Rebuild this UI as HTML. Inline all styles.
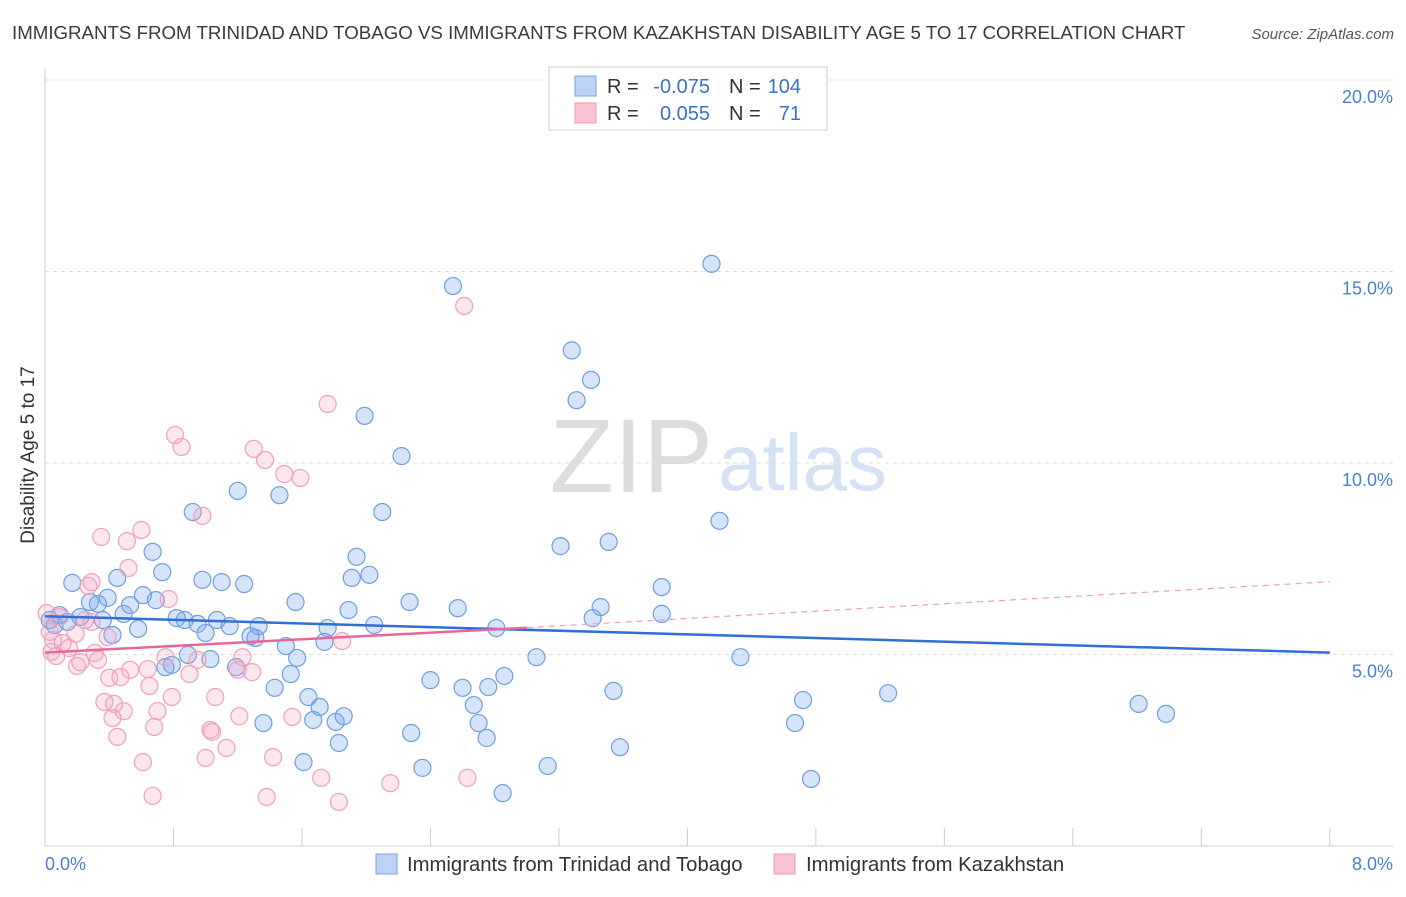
<!DOCTYPE html>
<html><head><meta charset="utf-8"><style>
body{margin:0;background:#fff;font-family:"Liberation Sans",sans-serif}
svg text{font-family:"Liberation Sans",sans-serif}
</style></head><body>
<svg id="chart" width="1406" height="892" viewBox="0 0 1406 892" xmlns="http://www.w3.org/2000/svg">
<text x="12" y="39" font-size="18.7" fill="#3a3a3a">IMMIGRANTS FROM TRINIDAD AND TOBAGO VS IMMIGRANTS FROM KAZAKHSTAN DISABILITY AGE 5 TO 17 CORRELATION CHART</text>
<text x="1394" y="39" font-size="15" fill="#555" font-style="italic" text-anchor="end">Source: ZipAtlas.com</text>
<text x="713" y="492" font-size="105" text-anchor="end" fill="#ddd" font-family="Liberation Serif">ZIP</text>
<text x="718" y="490" font-size="80" fill="#d4e2f4">atlas</text>
<g id="grid"></g>
<g id="axes"></g>
<text transform="translate(34,455) rotate(-90)" font-size="19" fill="#333" text-anchor="middle">Disability Age 5 to 17</text>
<g id="points"></g>
<g id="trends"></g>
<g>
<rect x="549" y="67" width="278" height="63" fill="#fff" stroke="#ccc"/>
<rect x="575" y="76" width="21" height="20" fill="#bcd3f5" stroke="#7ea6e0"/>
<rect x="575" y="103" width="21" height="20" fill="#f9c3d3" stroke="#f09ab5"/>
<text x="607" y="93" font-size="20" fill="#333">R =</text>
<text x="710" y="93" font-size="20" fill="#3a72c8" text-anchor="end">-0.075</text>
<text x="729" y="93" font-size="20" fill="#333">N =</text>
<text x="801" y="93" font-size="20" fill="#3a72c8" text-anchor="end">104</text>
<text x="607" y="120" font-size="20" fill="#333">R =</text>
<text x="710" y="120" font-size="20" fill="#3a72c8" text-anchor="end">0.055</text>
<text x="729" y="120" font-size="20" fill="#333">N =</text>
<text x="801" y="120" font-size="20" fill="#3a72c8" text-anchor="end">71</text>
</g>
<g>
<rect x="376" y="854" width="21" height="20" fill="#bcd3f5" stroke="#7ea6e0"/>
<text x="407" y="871" font-size="20.3" fill="#333">Immigrants from Trinidad and Tobago</text>
<rect x="774" y="854" width="21" height="20" fill="#f9c3d3" stroke="#f09ab5"/>
<text x="806" y="871" font-size="20.3" fill="#333">Immigrants from Kazakhstan</text>
</g>
</svg>
<script>
const yTicks=[5,10,15,20];
const yTickLabels=["5.0%","10.0%","15.0%","20.0%"];
const xTickVals=[0,0.8,1.6,2.4,3.2,4,4.8,5.6,6.4,7.2,8];
const xLabels=["0.0%","8.0%"];
const blueX=[2.54,4.15,3.28,3.40,3.31,1.99,2.22,1.20,1.46,0.92,2.10,4.20,3.21,3.51,0.67,1.94,0.73,0.45,0.17,0.98,1.10,1.24,1.91,2.02,3.84,0.39,0.28,0.53,0.61,0.69,0.33,1.56,2.27,2.57,3.46,1.89,3.84,3.41,0.09,0.22,0.36,0.03,0.06,0.14,0.49,0.82,0.87,0.95,1.07,1.15,1.33,0.58,1.00,0.42,1.28,1.31,1.76,2.05,2.81,1.74,1.50,0.89,1.57,1.03,0.79,0.75,1.19,3.06,4.33,1.53,2.40,2.86,1.43,2.60,2.76,3.54,5.25,4.72,1.64,1.71,2.67,6.81,6.98,1.36,1.67,1.81,1.86,2.70,4.67,2.28,2.75,1.83,3.58,1.61,2.35,3.13,4.77,2.85];
const blueY=[14.62,15.20,12.94,12.17,11.64,11.23,10.18,9.27,9.16,8.72,8.72,8.49,7.83,7.94,7.68,7.55,7.15,7.00,6.87,6.95,6.89,6.84,7.00,7.08,6.76,6.48,6.37,6.29,6.55,6.42,6.32,6.37,6.37,6.21,6.24,6.16,6.06,5.95,6.03,5.98,5.90,5.90,5.77,5.85,6.06,5.95,5.90,5.80,5.90,5.74,5.74,5.67,5.56,5.51,5.48,5.43,5.69,5.77,5.69,5.33,5.22,4.99,4.91,4.88,4.73,4.67,4.67,4.93,4.93,4.49,4.33,4.44,4.13,4.13,4.15,4.05,3.99,3.81,3.89,3.63,3.68,3.71,3.45,3.21,3.29,3.24,3.39,3.21,3.21,2.95,2.82,2.69,2.58,2.19,2.04,2.09,1.75,1.38];
const pinkX=[2.61,1.76,0.81,0.85,1.30,1.37,1.49,1.59,0.98,0.60,0.35,0.51,0.52,0.29,0.27,0.77,0.01,0.09,0.25,0.29,0.03,0.19,0.39,0.05,0.11,0.15,0.04,0.31,0.07,1.23,1.85,0.75,0.33,0.22,0.20,0.95,0.64,0.53,1.20,0.90,1.29,0.40,0.47,0.65,0.79,1.06,0.37,0.43,0.70,0.49,0.42,1.21,1.54,0.68,1.03,1.04,0.45,1.13,1.42,1.00,0.61,1.72,2.63,2.15,0.67,1.38,1.83];
const pinkY=[14.10,11.54,10.73,10.42,10.37,10.08,9.71,9.61,8.62,8.25,8.07,7.96,7.26,6.89,6.79,6.45,6.08,5.98,5.90,5.85,5.59,5.54,5.46,5.38,5.30,5.17,5.07,5.04,4.96,4.93,5.35,4.93,4.86,4.80,4.70,4.86,4.62,4.60,4.60,4.49,4.54,4.39,4.41,4.18,3.89,3.89,3.76,3.71,3.52,3.52,3.34,3.39,3.37,3.11,3.03,2.98,2.85,2.56,2.32,2.30,2.19,1.78,1.78,1.64,1.31,1.28,1.15];
const blueTrendX=[0,8]; const blueTrendY=[6.0,5.05];
const pinkTrendX=[0,3.0,8]; const pinkTrendY=[5.05,5.7,6.9];

const NS="http://www.w3.org/2000/svg";
const xs=v=>45+v*160.6;
const ys=v=>846-v*38.3;
function mk(tag,attrs,parent){const e=document.createElementNS(NS,tag);for(const k in attrs)e.setAttribute(k,attrs[k]);parent.appendChild(e);return e;}
const grid=document.getElementById('grid'),axes=document.getElementById('axes'),pts=document.getElementById('points'),tr=document.getElementById('trends');
yTicks.forEach((t,i)=>{
  const l=mk('line',{x1:45,x2:1393,y1:ys(t),y2:ys(t),stroke:'#ddd','stroke-dasharray':'4,4'},grid);
  
  
  const tx=mk('text',{x:1393,y:ys(t)+23,'font-size':18,fill:'#4a7fd0','text-anchor':'end'},axes);
  tx.textContent=yTickLabels[i];
  
  
});
const la=mk('line',{x1:45,x2:45,y1:68,y2:846,stroke:'#ccc'},axes);


const lb=mk('line',{x1:45,x2:1393,y1:846,y2:846,stroke:'#ccc'},axes);


xTickVals.forEach(t=>{
  const l=mk('line',{x1:xs(t),x2:xs(t),y1:828,y2:846,stroke:'#ccc'},axes);
  
  
});
const x0=mk('text',{x:45,y:870,'font-size':18,fill:'#4a7fd0'},axes);x0.textContent=xLabels[0];


const x1=mk('text',{x:1393,y:870,'font-size':18,fill:'#4a7fd0','text-anchor':'end'},axes);x1.textContent=xLabels[1];


blueX.forEach((v,i)=>{
  const c=mk('circle',{cx:xs(v),cy:ys(blueY[i]),r:8.5,fill:'rgba(120,165,235,0.3)',stroke:'#6e9fe0','stroke-width':1.2},pts);
  
  
});
pinkX.forEach((v,i)=>{
  const c=mk('circle',{cx:xs(v),cy:ys(pinkY[i]),r:8.5,fill:'rgba(245,160,190,0.25)',stroke:'#f0a0ba','stroke-width':1.2},pts);
  
  
});
const bt=mk('line',{x1:xs(blueTrendX[0]),y1:ys(blueTrendY[0]),x2:xs(blueTrendX[1]),y2:ys(blueTrendY[1]),stroke:'#2f6fd6','stroke-width':2.5},tr);


const pt=mk('line',{x1:xs(pinkTrendX[0]),y1:ys(pinkTrendY[0]),x2:xs(pinkTrendX[1]),y2:ys(pinkTrendY[1]),stroke:'#e8679a','stroke-width':2.5},tr);


const pd=mk('line',{x1:xs(pinkTrendX[1]),y1:ys(pinkTrendY[1]),x2:xs(pinkTrendX[2]),y2:ys(pinkTrendY[2]),stroke:'#e8a0b8','stroke-width':1.2,'stroke-dasharray':'6,5'},tr);


</script>
</body></html>
